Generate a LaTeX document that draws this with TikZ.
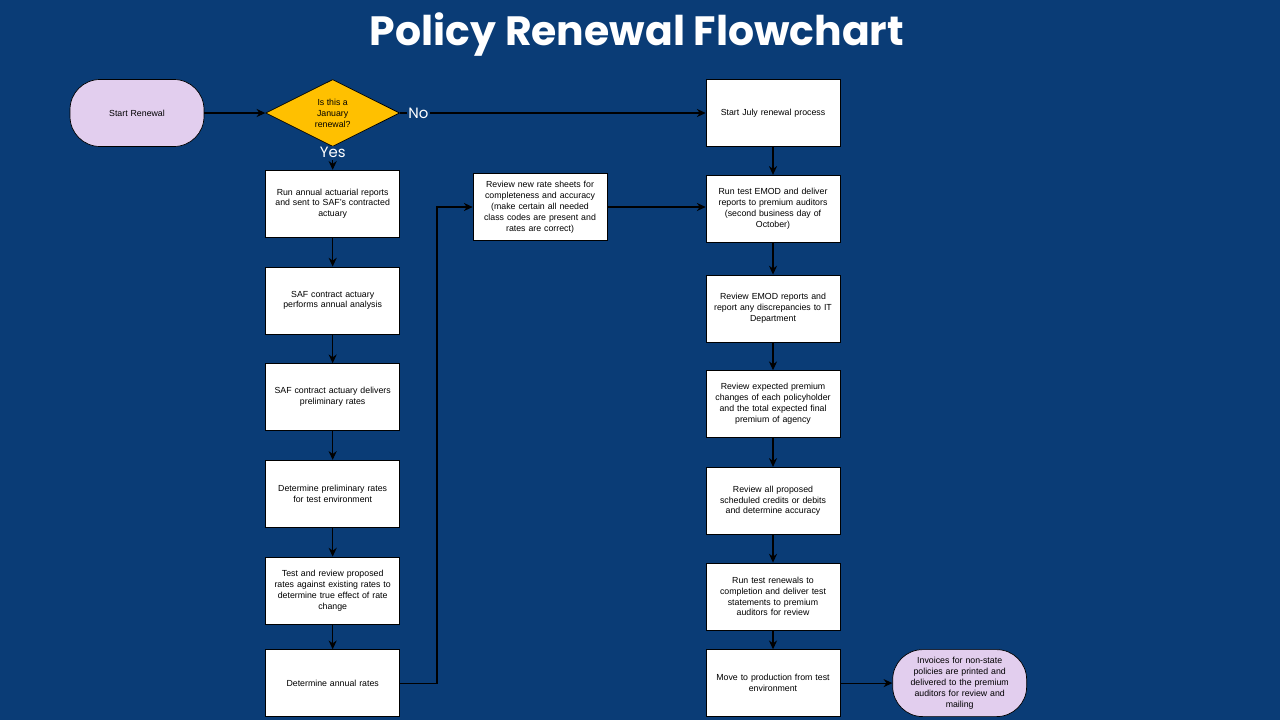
\documentclass[tikz,border=0pt]{standalone}
\usepackage{fontspec}
\setmainfont{Liberation Sans}
\newfontfamily\titleFont{Poppins}
\usetikzlibrary{shapes.geometric,arrows.meta,positioning}
\definecolor{bgBlue}{RGB}{10,60,118}
\definecolor{termLilac}{RGB}{226,206,238}
\definecolor{decGold}{RGB}{255,192,0}
\tikzset{
  procBox/.style={rectangle,draw=black,fill=white,text width=2.45cm,align=center,
                  minimum width=2.68cm,minimum height=1.34cm,inner sep=0pt,
                  font=\fontsize{5}{6.2}\selectfont},
  termBox/.style={procBox,rounded corners=0.6cm,fill=termLilac},
  decBox/.style={diamond,draw=black,fill=decGold,aspect=2,align=center,
                 minimum width=2.68cm,minimum height=1.34cm,inner sep=0pt,
                 font=\fontsize{5}{6.2}\selectfont},
  flowArrow/.style={-{Stealth[length=5pt,width=4.6pt]},line width=0.6pt,black},
  yesNo/.style={fill=bgBlue,text=white,inner sep=1pt,font=\titleFont\fontsize{8.5}{9}\selectfont},
}
\begin{document}
\begin{tikzpicture}[x=0.02cm,y=-0.02cm,node distance=0.58cm,
  title/.style={text=white,font=\titleFont\bfseries\fontsize{23.3}{28}\selectfont}]
  \fill[bgBlue] (0,0) rectangle (1280,720);
  \useasboundingbox (0,0) rectangle (1280,720);
  \node[title] (head) at (637,35) {Policy Renewal Flowchart};
  \node[termBox] (start) at (137,113) {Start Renewal};
  \node[decBox,right=1.22cm of start] (jan) {Is this a\\January\\renewal?};
  \node[procBox] (july) at (773,113) {Start July renewal process};
  \node[procBox,below=0.46cm of jan] (runrep) {Run annual actuarial reports\\
                                              and sent to SAF's contracted\\actuary};
  \node[procBox,below=of runrep] (analysis) {SAF contract actuary\\performs annual analysis};
  \node[procBox,below=of analysis] (prelim) {SAF contract actuary delivers\\preliminary rates};
  \node[procBox,below=of prelim] (testenv) {Determine preliminary rates\\for test environment};
  \node[procBox,below=of testenv] (testrev) {Test and review proposed\\rates against existing rates to\\
                                             determine true effect of rate\\change};
  \node[procBox,below=0.5cm of testrev] (annual) {Determine annual rates};
  \node[procBox] (sheets) at (540,207) {Review new rate sheets for\\completeness and accuracy\\
                                        (make certain all needed\\class codes are present and\\
                                        rates are correct)};
  \node[procBox,below=0.56cm of july] (emod) {Run test EMOD and deliver\\reports to premium auditors\\
                                              (second business day of\\October)};
  \node[procBox,below=0.64cm of emod] (emodrev) {Review EMOD reports and\\
                                                 report any discrepancies to IT\\Department};
  \node[procBox,below=0.56cm of emodrev] (premrev) {Review expected premium\\changes of each policyholder\\
                                                   and the total expected final\\premium of agency};
  \node[procBox,below=of premrev] (credits) {Review all proposed\\scheduled credits or debits\\
                                             and determine accuracy};
  \node[procBox,below=0.56cm of credits] (renewals) {Run test renewals to\\completion and deliver test\\
                                                     statements to premium\\auditors for review};
  \node[procBox,below=0.38cm of renewals] (prod) {Move to production from test\\environment};
  \node[termBox,right=1.04cm of prod] (invoices) {Invoices for non-state\\policies are printed and\\
                                                  delivered to the premium\\auditors for review and\\mailing};
  \draw[flowArrow] (start) -- (jan);
  \draw[flowArrow] (jan.east) -- node[yesNo,pos=0.06] (no) {No} (july.west);
  \draw[flowArrow] (jan.south) -- node[yesNo,pos=0.25] (yes) {Yes} (runrep.north);
  \foreach \x/\y in {runrep/analysis,analysis/prelim,prelim/testenv,testenv/testrev,testrev/annual,
                     july/emod,emod/emodrev,emodrev/premrev,premrev/credits,credits/renewals,
                     renewals/prod,prod/invoices}{\draw[flowArrow](\x)--(\y);}
  \draw[flowArrow] (annual.east) -- ++(0.74cm,0) |- (sheets.west);
  \draw[flowArrow] (sheets.east) -- (sheets.east -| emod.west);
\end{tikzpicture}
\end{document}
